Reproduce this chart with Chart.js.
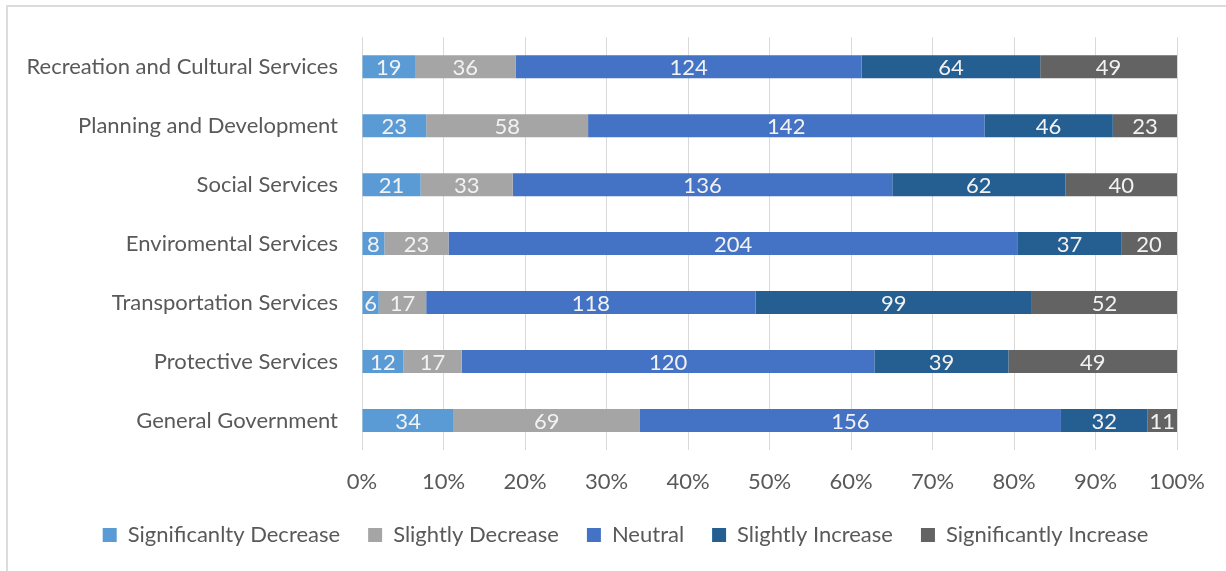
<!DOCTYPE html>
<html>
<head>
<meta charset="utf-8">
<script src="https://cdn.jsdelivr.net/npm/chart.js@4/dist/chart.umd.min.js"></script>
<style>
  html, body { margin: 0; padding: 0; background: #fff; overflow: hidden; }
  #frame { position: absolute; left: 6px; top: 5px; width: 1400px; height: 800px; border: 2px solid #dcdcdc; box-sizing: border-box; }
  #c { position: absolute; left: 0; top: 0; }
</style>
</head>
<body>
<div id="frame"></div>
<canvas id="c" width="1226" height="571"></canvas>
<script>
const categories = [
  'Recreation and Cultural Services',
  'Planning and Development',
  'Social Services',
  'Enviromental Services',
  'Transportation Services',
  'Protective Services',
  'General Government'
];
const seriesNames = ['Significanlty Decrease', 'Slightly Decrease', 'Neutral', 'Slightly Increase', 'Significantly Increase'];
const significantlyDecrease = [19, 23, 21, 8, 6, 12, 34];
const slightlyDecrease     = [36, 58, 33, 23, 17, 17, 69];
const neutral              = [124, 142, 136, 204, 118, 120, 156];
const slightlyIncrease     = [64, 46, 62, 37, 99, 39, 32];
const significantlyIncrease= [49, 23, 40, 20, 52, 49, 11];
const tickValues = [0, 10, 20, 30, 40, 50, 60, 70, 80, 90, 100];

const colors = ['#5B9BD5', '#A5A5A5', '#4472C4', '#255E91', '#636363'];
const allSeries = [significantlyDecrease, slightlyDecrease, neutral, slightlyIncrease, significantlyIncrease];
const totals = categories.map((_, i) => allSeries.reduce((s, arr) => s + arr[i], 0));

const FONT = 'Lato, "Open Sans", sans-serif';
const FS = 22;

const labelPlugin = {
  id: 'segLabels',
  afterDatasetsDraw(chart) {
    const ctx = chart.ctx;
    ctx.save();
    ctx.font = FS + 'px ' + FONT;
    ctx.fillStyle = '#f2f2f2';
    ctx.textAlign = 'center';
    ctx.textBaseline = 'middle';
    chart.data.datasets.forEach((ds, di) => {
      const meta = chart.getDatasetMeta(di);
      meta.data.forEach((el, i) => {
        const cx = (el.x + el.base) / 2;
        ctx.fillText(String(ds.counts[i]), cx, el.y + 1);
      });
    });
    ctx.restore();
  }
};

const legendShift = {
  id: 'legendShift',
  afterLayout(chart) {
    const lg = chart.legend;
    if (lg) {
      lg.left = 74;
      lg.right = 1177;
      lg.width = lg.right - lg.left;
    }
  }
};

new Chart(document.getElementById('c'), {
  type: 'bar',
  data: {
    labels: categories,
    datasets: allSeries.map((arr, k) => ({
      label: seriesNames[k],
      data: arr.map((v, i) => v / totals[i] * 100),
      counts: arr,
      backgroundColor: colors[k],
      borderWidth: 0,
      barPercentage: 0.39,
      categoryPercentage: 1.0
    }))
  },
  options: {
    indexAxis: 'y',
    responsive: false,
    animation: false,
    devicePixelRatio: 1,
    layout: { padding: { top: 30, right: 49, left: 0, bottom: 15 } },
    scales: {
      x: {
        stacked: true,
        min: 0, max: 100,
        afterBuildTicks(scale) { scale.ticks = tickValues.map(v => ({ value: v })); },
        grid: { color: '#d9d9d9', lineWidth: 1, drawTicks: false },
        border: { display: false },
        ticks: {
          callback: v => v + '%',
          color: '#595959',
          font: { family: FONT, size: FS },
          padding: 19,
          maxRotation: 0
        },
        afterFit(scale) { scale.height = 46; }
      },
      y: {
        stacked: true,
        grid: { display: false, drawTicks: false },
        border: { display: false },
        ticks: {
          color: '#595959',
          font: { family: FONT, size: FS },
          padding: 24
        },
        afterFit(scale) { scale.width = 362; }
      }
    },
    plugins: {
      legend: {
        position: 'bottom',
        labels: {
          boxWidth: 14,
          boxHeight: 14,
          color: '#595959',
          font: { family: FONT, size: FS },
          padding: 28
        }
      },
      tooltip: { enabled: false }
    }
  },
  plugins: [labelPlugin, legendShift]
});
</script>
</body>
</html>
